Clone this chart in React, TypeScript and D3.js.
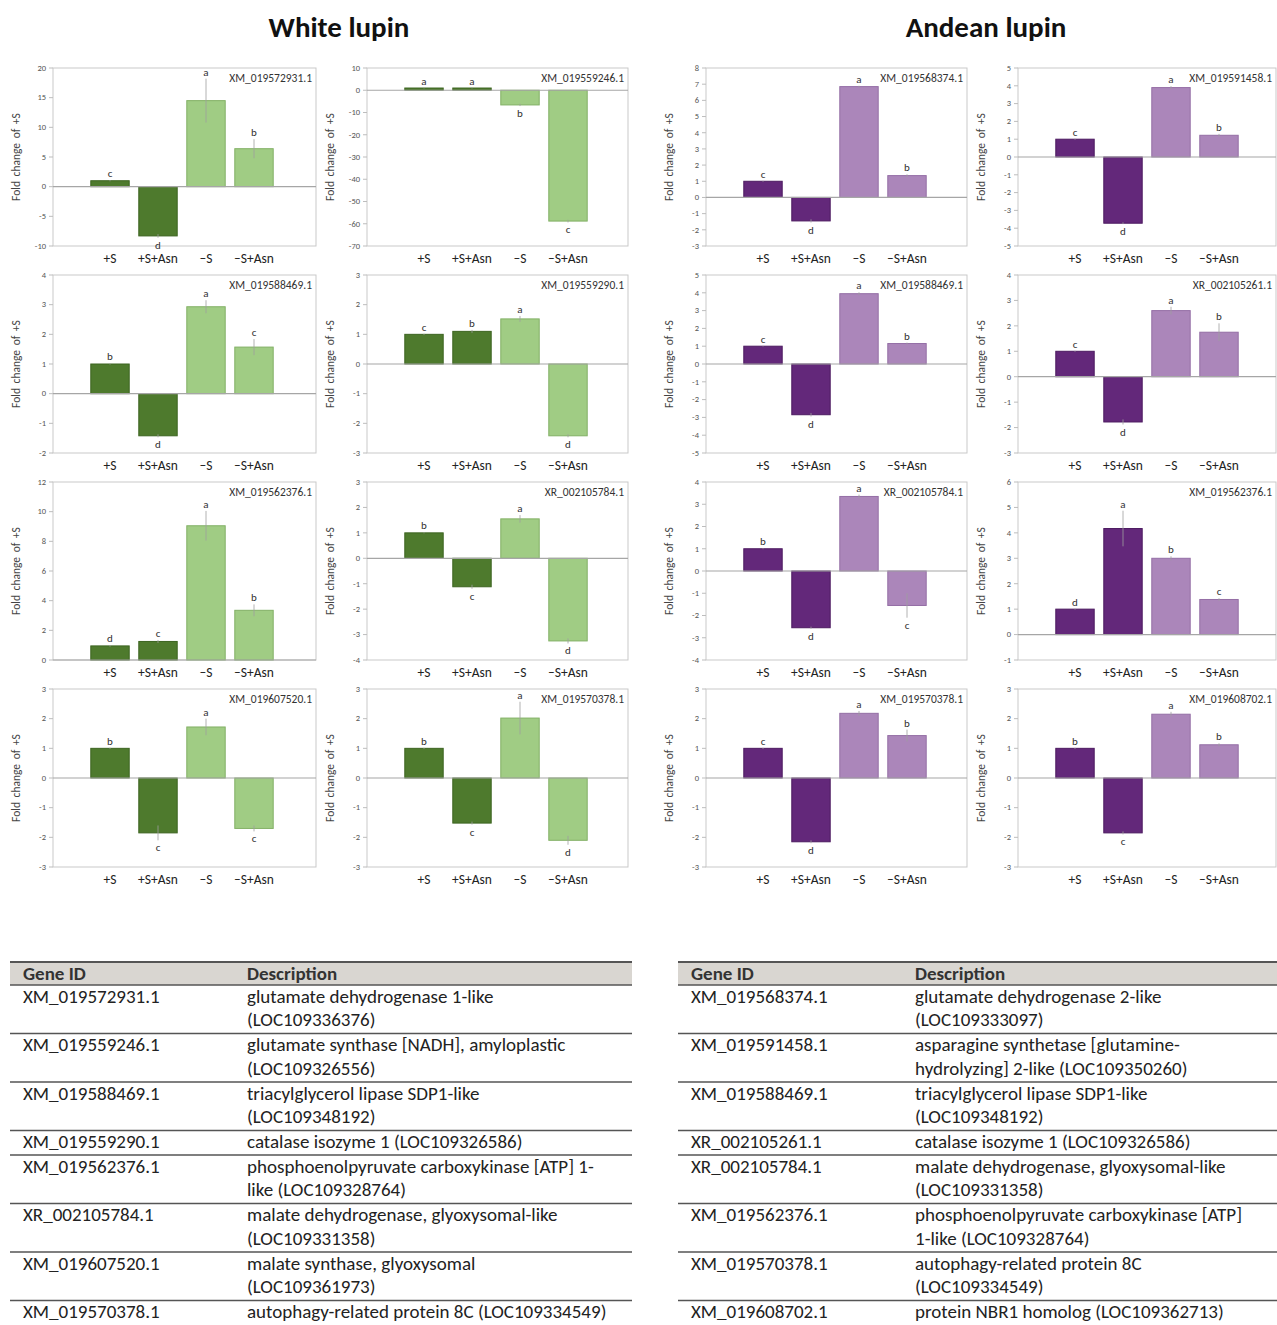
import React from "react";
import * as d3 from "d3";

const categories = ["+S", "+S+Asn", "–S", "–S+Asn"];

// White lupin panels
const p1Gene = "XM_019572931.1"; const p1Domain = [-10, 20]; const p1Step = 5;
const p1Values = [1, -8.3, 14.5, 6.4]; const p1Errors = [0.1, 0.3, 3.7, 1.6]; const p1Letters = ["c", "d", "a", "b"];
const p2Gene = "XM_019559246.1"; const p2Domain = [-70, 10]; const p2Step = 10;
const p2Values = [1, 1, -6.6, -58.8]; const p2Errors = [0.2, 0.2, 0.5, 0.6]; const p2Letters = ["a", "a", "b", "c"];
const p5Gene = "XM_019588469.1"; const p5Domain = [-2, 4]; const p5Step = 1;
const p5Values = [1, -1.42, 2.93, 1.57]; const p5Errors = [0.02, 0.05, 0.22, 0.27]; const p5Letters = ["b", "d", "a", "c"];
const p6Gene = "XM_019559290.1"; const p6Domain = [-3, 3]; const p6Step = 1;
const p6Values = [1, 1.1, 1.52, -2.42]; const p6Errors = [0.02, 0.05, 0.1, 0.05]; const p6Letters = ["c", "b", "a", "d"];
const p9Gene = "XM_019562376.1"; const p9Domain = [0, 12]; const p9Step = 2;
const p9Values = [0.95, 1.25, 9.05, 3.35]; const p9Errors = [0.05, 0.1, 1.0, 0.4]; const p9Letters = ["d", "c", "a", "b"];
const p10Gene = "XR_002105784.1"; const p10Domain = [-4, 3]; const p10Step = 1;
const p10Values = [1, -1.12, 1.55, -3.25]; const p10Errors = [0.02, 0.08, 0.15, 0.1]; const p10Letters = ["b", "c", "a", "d"];
const p13Gene = "XM_019607520.1"; const p13Domain = [-3, 3]; const p13Step = 1;
const p13Values = [1, -1.85, 1.72, -1.7]; const p13Errors = [0.02, 0.25, 0.28, 0.1]; const p13Letters = ["b", "c", "a", "c"];
const p14Gene = "XM_019570378.1"; const p14Domain = [-3, 3]; const p14Step = 1;
const p14Values = [1, -1.52, 2.02, -2.1]; const p14Errors = [0.02, 0.05, 0.55, 0.15]; const p14Letters = ["b", "c", "a", "d"];

// Andean lupin panels
const p3Gene = "XM_019568374.1"; const p3Domain = [-3, 8]; const p3Step = 1;
const p3Values = [1, -1.45, 6.85, 1.35]; const p3Errors = [0.03, 0.1, 0.05, 0.08]; const p3Letters = ["c", "d", "a", "b"];
const p4Gene = "XM_019591458.1"; const p4Domain = [-5, 5]; const p4Step = 1;
const p4Values = [1, -3.72, 3.9, 1.22]; const p4Errors = [0.03, 0.05, 0.08, 0.08]; const p4Letters = ["c", "d", "a", "b"];
const p7Gene = "XM_019588469.1"; const p7Domain = [-5, 5]; const p7Step = 1;
const p7Values = [1, -2.85, 3.95, 1.15]; const p7Errors = [0.02, 0.1, 0.08, 0.05]; const p7Letters = ["c", "d", "a", "b"];
const p8Gene = "XR_002105261.1"; const p8Domain = [-3, 4]; const p8Step = 1;
const p8Values = [1, -1.78, 2.6, 1.75]; const p8Errors = [0.02, 0.1, 0.15, 0.35]; const p8Letters = ["c", "d", "a", "b"];
const p11Gene = "XR_002105784.1"; const p11Domain = [-4, 4]; const p11Step = 1;
const p11Values = [1, -2.55, 3.35, -1.55]; const p11Errors = [0.02, 0.05, 0.08, 0.55]; const p11Letters = ["b", "d", "a", "c"];
const p12Gene = "XM_019562376.1"; const p12Domain = [-1, 6]; const p12Step = 1;
const p12Values = [1, 4.17, 3.0, 1.38]; const p12Errors = [0.02, 0.7, 0.08, 0.05]; const p12Letters = ["d", "a", "b", "c"];
const p15Gene = "XM_019570378.1"; const p15Domain = [-3, 3]; const p15Step = 1;
const p15Values = [1, -2.15, 2.18, 1.43]; const p15Errors = [0.02, 0.05, 0.08, 0.2]; const p15Letters = ["c", "d", "a", "b"];
const p16Gene = "XM_019608702.1"; const p16Domain = [-3, 3]; const p16Step = 1;
const p16Values = [1, -1.85, 2.15, 1.12]; const p16Errors = [0.02, 0.05, 0.08, 0.05]; const p16Letters = ["b", "c", "a", "b"];

// Tables
const whiteGeneIds = ["XM_019572931.1", "XM_019559246.1", "XM_019588469.1", "XM_019559290.1", "XM_019562376.1", "XR_002105784.1", "XM_019607520.1", "XM_019570378.1"];
const whiteDescriptions = [
  ["glutamate dehydrogenase 1-like", "(LOC109336376)"],
  ["glutamate synthase [NADH], amyloplastic", "(LOC109326556)"],
  ["triacylglycerol lipase SDP1-like", "(LOC109348192)"],
  ["catalase isozyme 1 (LOC109326586)"],
  ["phosphoenolpyruvate carboxykinase [ATP] 1-", "like (LOC109328764)"],
  ["malate dehydrogenase, glyoxysomal-like", "(LOC109331358)"],
  ["malate synthase, glyoxysomal", "(LOC109361973)"],
  ["autophagy-related protein 8C (LOC109334549)"],
];
const andeanGeneIds = ["XM_019568374.1", "XM_019591458.1", "XM_019588469.1", "XR_002105261.1", "XR_002105784.1", "XM_019562376.1", "XM_019570378.1", "XM_019608702.1"];
const andeanDescriptions = [
  ["glutamate dehydrogenase 2-like", "(LOC109333097)"],
  ["asparagine synthetase [glutamine-", "hydrolyzing] 2-like (LOC109350260)"],
  ["triacylglycerol lipase SDP1-like", "(LOC109348192)"],
  ["catalase isozyme 1 (LOC109326586)"],
  ["malate dehydrogenase, glyoxysomal-like", "(LOC109331358)"],
  ["phosphoenolpyruvate carboxykinase [ATP]", "1-like (LOC109328764)"],
  ["autophagy-related protein 8C", "(LOC109334549)"],
  ["protein NBR1 homolog (LOC109362713)"],
];

const GREEN = { dark: "#4e7a2d", darkStroke: "#3c6420", light: "#a0cc84", lightStroke: "#82b065" };
const PURPLE = { dark: "#63287a", darkStroke: "#4c1a60", light: "#ab86ba", lightStroke: "#946ea5" };

const colLefts = [53, 367, 706, 1018];
const colRights = [316, 628, 967, 1276];
const rowTops = [68, 275, 482, 689];
const plotH = 178;

const panels = [
  [p1Gene, p1Domain, p1Step, p1Values, p1Errors, p1Letters],
  [p2Gene, p2Domain, p2Step, p2Values, p2Errors, p2Letters],
  [p3Gene, p3Domain, p3Step, p3Values, p3Errors, p3Letters],
  [p4Gene, p4Domain, p4Step, p4Values, p4Errors, p4Letters],
  [p5Gene, p5Domain, p5Step, p5Values, p5Errors, p5Letters],
  [p6Gene, p6Domain, p6Step, p6Values, p6Errors, p6Letters],
  [p7Gene, p7Domain, p7Step, p7Values, p7Errors, p7Letters],
  [p8Gene, p8Domain, p8Step, p8Values, p8Errors, p8Letters],
  [p9Gene, p9Domain, p9Step, p9Values, p9Errors, p9Letters],
  [p10Gene, p10Domain, p10Step, p10Values, p10Errors, p10Letters],
  [p11Gene, p11Domain, p11Step, p11Values, p11Errors, p11Letters],
  [p12Gene, p12Domain, p12Step, p12Values, p12Errors, p12Letters],
  [p13Gene, p13Domain, p13Step, p13Values, p13Errors, p13Letters],
  [p14Gene, p14Domain, p14Step, p14Values, p14Errors, p14Letters],
  [p15Gene, p15Domain, p15Step, p15Values, p15Errors, p15Letters],
  [p16Gene, p16Domain, p16Step, p16Values, p16Errors, p16Letters],
].map(([gene, domain, step, values, errors, letters]) => ({ gene, domain, step, values, errors, letters })) as any[];

const FONT = "Carlito, Lato, 'Open Sans', sans-serif";

function Panel({ p, x0, x1, y0, palette }: any) {
  const y1 = y0 + plotH;
  const y = d3.scaleLinear().domain(p.domain).range([y1, y0]);
  const x = d3.scaleBand().domain(categories).range([x0 + 33, x0 + 225]).paddingInner(0.2).paddingOuter(0.1);
  const ticks = d3.range(p.domain[0], p.domain[1] + p.step / 2, p.step);
  const zero = y(0);
  return (
    <g>
      <rect x={x0} y={y0} width={x1 - x0} height={plotH} fill="none" stroke="#c9c9c9" strokeWidth={1} />
      {ticks.map((t: number) => (
        <g key={t}>
          <line x1={x0 - 4} x2={x0} y1={y(t)} y2={y(t)} stroke="#bdbdbd" strokeWidth={1} />
          <text x={x0 - 7} y={y(t)} dy="0.33em" textAnchor="end" fontSize={8.5} fill="#555" fontFamily={FONT}>{t}</text>
        </g>
      ))}
      <text transform={`translate(${x0 - 33},${y0 + plotH / 2}) rotate(-90)`} textAnchor="middle" fontSize={11.5} fill="#444" fontFamily={FONT} wordSpacing={2}>Fold change of +S</text>
      {p.values.map((v: number, i: number) => {
        const c = categories[i];
        const isDark = i < 2;
        const top = Math.min(y(v), zero);
        const h = Math.abs(y(v) - zero);
        const cx = (x(c) as number) + x.bandwidth() / 2;
        const e = p.errors[i];
        const letterY = v >= 0 ? y(v + e) - 3 : y(v - e) + 11;
        return (
          <g key={c}>
            <rect x={x(c)} y={top} width={x.bandwidth()} height={h} fill={isDark ? palette.dark : palette.light} stroke={isDark ? palette.darkStroke : palette.lightStroke} strokeWidth={1} />
            <line x1={cx} x2={cx} y1={y(v - e)} y2={y(v + e)} stroke="#a0a0a0" strokeWidth={0.8} />
            <text x={cx} y={letterY} textAnchor="middle" fontSize={11} fill="#333" fontFamily={FONT}>{p.letters[i]}</text>
          </g>
        );
      })}
      <line x1={x0} x2={x1} y1={zero} y2={zero} stroke="#a6a6a6" strokeWidth={1.2} />
      <text x={x1 - 4} y={y0 + 14} textAnchor="end" fontSize={11.5} fill="#333" fontFamily={FONT}>{p.gene}</text>
      {categories.map((c) => (
        <text key={c} x={(x(c) as number) + x.bandwidth() / 2} y={y1 + 17} textAnchor="middle" fontSize={13.5} fill="#222" fontFamily={FONT}>{c}</text>
      ))}
    </g>
  );
}

function Table({ x0, x1, gx, dx, ids, descs }: any) {
  const headTop = 962;
  const headBottom = 985;
  const lineH = 23.5;
  let cur = headBottom;
  const rows = ids.map((id: string, i: number) => {
    const lines = descs[i];
    const top = cur;
    const h = lines.length === 1 ? 24.5 : 48.5;
    cur += h;
    return { id, lines, top, h };
  });
  return (
    <g fontFamily={FONT} fontSize={19} fill="#222">
      <rect x={x0} y={headTop} width={x1 - x0} height={headBottom - headTop} fill="#d9d6d1" />
      <line x1={x0} x2={x1} y1={headTop} y2={headTop} stroke="#555" strokeWidth={2} />
      <line x1={x0} x2={x1} y1={headBottom} y2={headBottom} stroke="#555" strokeWidth={1.5} />
      <text x={gx} y={headTop + 18} fontWeight="bold" fill="#333">Gene ID</text>
      <text x={dx} y={headTop + 18} fontWeight="bold" fill="#333">Description</text>
      {rows.map((r: any, i: number) => (
        <g key={i}>
          <text x={gx} y={r.top + 17.5}>{r.id}</text>
          {r.lines.map((l: string, j: number) => (
            <text key={j} x={dx} y={r.top + 17.5 + j * lineH}>{l}</text>
          ))}
          {i < rows.length - 1 && (
            <line x1={x0} x2={x1} y1={r.top + r.h} y2={r.top + r.h} stroke="#555" strokeWidth={1.5} />
          )}
        </g>
      ))}
    </g>
  );
}

export default function App() {
  return (
    <svg width={1277} height={1325} style={{ position: "absolute", left: 0, top: 0, background: "#fff" }}>
      <rect width={1277} height={1325} fill="#fff" />
      <text x={339} y={37} textAnchor="middle" fontSize={29} fontWeight="bold" fill="#111" fontFamily={FONT}>White lupin</text>
      <text x={986} y={37} textAnchor="middle" fontSize={29} fontWeight="bold" fill="#111" fontFamily={FONT}>Andean lupin</text>
      {panels.map((p, i) => {
        const r = Math.floor(i / 4);
        const c = i % 4;
        return <Panel key={i} p={p} x0={colLefts[c]} x1={colRights[c]} y0={rowTops[r]} palette={c < 2 ? GREEN : PURPLE} />;
      })}
      <Table x0={10} x1={632} gx={23} dx={247} ids={whiteGeneIds} descs={whiteDescriptions} />
      <Table x0={678} x1={1277} gx={691} dx={915} ids={andeanGeneIds} descs={andeanDescriptions} />
    </svg>
  );
}
